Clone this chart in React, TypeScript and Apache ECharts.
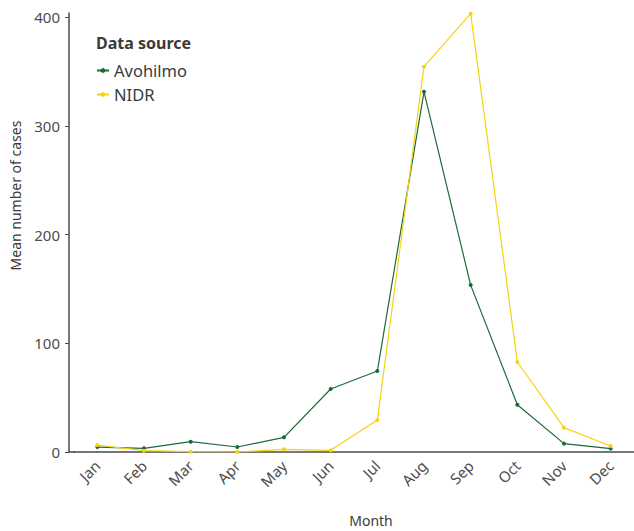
import React, { useEffect, useRef } from "react";
import * as echarts from "echarts";

const months = ["Jan", "Feb", "Mar", "Apr", "May", "Jun", "Jul", "Aug", "Sep", "Oct", "Nov", "Dec"];
const avohilmo = [4.5, 3.4, 9.5, 4.6, 13.5, 58, 74.5, 331.5, 153.6, 43.5, 7.7, 3.1];
const nidr = [6.4, 1.2, 0.3, 0, 2.5, 1.5, 29.4, 354.6, 403.4, 82.8, 22.4, 5.5];
const yTicks = [0, 100, 200, 300, 400];

const FONT = "Noto Sans";
const GREEN = "#1a6b37";
const YELLOW = "#f5d312";
const AXIS = "#4a4a4a";

export default function App() {
  const ref = useRef<HTMLDivElement>(null);
  useEffect(() => {
    if (!ref.current) return;
    const chart = echarts.init(ref.current, undefined, { renderer: "svg" });
    chart.setOption({
      animation: false,
      textStyle: { fontFamily: FONT },
      grid: { left: 74, right: 0, top: 13, bottom: 79, containLabel: false, outerBoundsMode: "none" },
      graphic: [
        {
          type: "text",
          left: 96,
          top: 35,
          style: { text: "Data source", font: `bold 16px "${FONT}"`, fill: "#3a3a3a" },
        },
        {
          type: "line",
          shape: { x1: 68.5, y1: 452, x2: 75, y2: 452 },
          style: { stroke: AXIS, lineWidth: 1.5 },
        },
      ],
      legend: {
        left: 91,
        top: 57,
        orient: "vertical",
        itemWidth: 12,
        itemHeight: 6,
        itemGap: 7,
        textStyle: { fontFamily: FONT, fontSize: 16.5, color: "#3a3a3a" },
        data: ["Avohilmo", "NIDR"],
      },
      xAxis: {
        type: "category",
        data: months,
        boundaryGap: true,
        name: "Month",
        nameLocation: "middle",
        nameGap: 61,
        nameTextStyle: { fontSize: 14, color: "#3a3a3a", padding: [0, 0, 0, 34] },
        axisLine: { lineStyle: { color: AXIS, width: 1.5 } },
        axisTick: { alignWithLabel: true, length: 4, lineStyle: { color: AXIS } },
        axisLabel: { rotate: 45, fontSize: 15, color: "#4d4d4d", margin: 11, interval: 0 },
      },
      yAxis: {
        type: "value",
        min: 0,
        max: 404,
        offset: 5,
        name: "Mean number of cases",
        nameLocation: "middle",
        nameGap: 47,
        nameTextStyle: { fontSize: 14, color: "#3a3a3a", padding: [0, 0, 0, 74] },
        axisLine: { show: true, lineStyle: { color: AXIS, width: 1.5 } },
        axisTick: { show: true, length: 4, lineStyle: { color: AXIS }, customValues: yTicks },
        axisLabel: { fontSize: 15, color: "#4d4d4d", margin: 9, customValues: yTicks },
        splitLine: { show: false },
      },
      series: [
        {
          name: "Avohilmo",
          type: "line",
          data: avohilmo,
          color: GREEN,
          symbol: "circle",
          symbolSize: 4,
          lineStyle: { width: 1.2 },
        },
        {
          name: "NIDR",
          type: "line",
          data: nidr,
          color: YELLOW,
          symbol: "circle",
          symbolSize: 4,
          lineStyle: { width: 1.2 },
        },
      ],
    });
    return () => chart.dispose();
  }, []);
  return <div ref={ref} style={{ width: 634, height: 531, position: "absolute", left: 0, top: 0 }} />;
}
